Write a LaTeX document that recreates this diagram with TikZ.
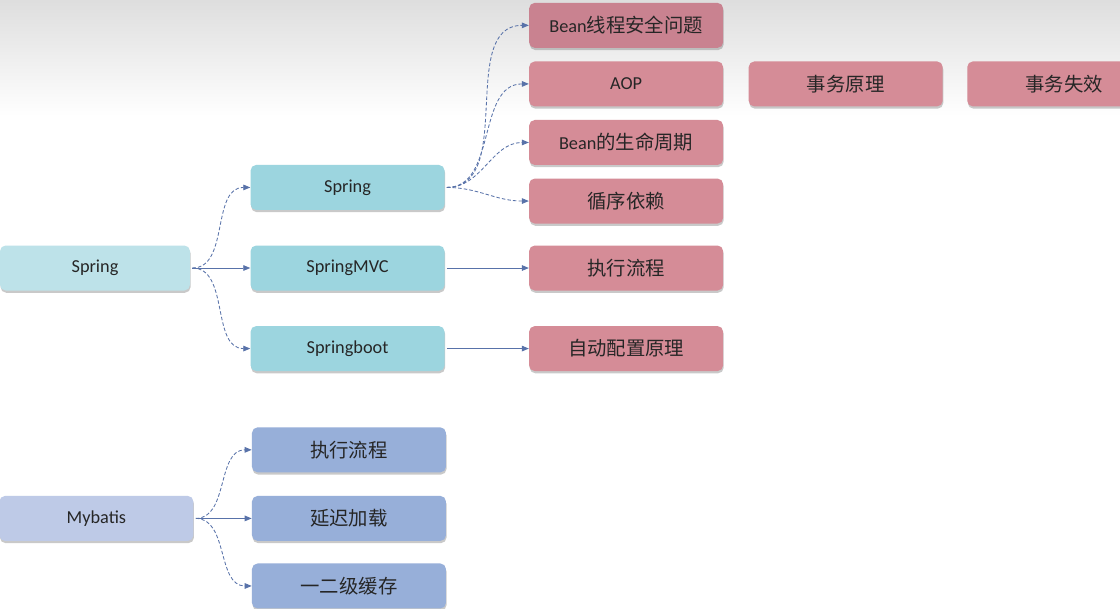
\documentclass[tikz,border=0pt]{standalone}
\usepackage{fontspec}
\setmainfont{Carlito}
\newfontfamily\cjk[Scale=1.06]{Noto Sans CJK SC}
\definecolor{RootCyan}{HTML}{BDE2E9}
\definecolor{SpringCyan}{HTML}{9CD5DF}
\definecolor{TopicPink}{HTML}{D58C97}
\definecolor{TopicPinkDark}{HTML}{C98290}
\definecolor{RootBlue}{HTML}{BECAE7}
\definecolor{MybatisBlue}{HTML}{97AFD9}
\definecolor{LinkBlue}{HTML}{5872A9}
\usetikzlibrary{arrows.meta, positioning, shadows}
\tikzset{
  box/.style={rectangle, rounded corners=4pt, draw=none, fill=#1,
              minimum width=4.85cm, minimum height=1.125cm,
              font=\fontsize{13}{15}\selectfont, text=black!85, align=center,
              drop shadow={shadow xshift=0.4pt, shadow yshift=-1.6pt,
                           opacity=0.35, fill=black!60}},
  arr/.style={-{Triangle[length=5pt, width=4pt]}, semithick, color=LinkBlue,
              shorten <=1.5pt},
  darr/.style={arr, dash pattern=on 2.5pt off 1.5pt},
}

\begin{document}
\begin{tikzpicture}
  % background
  \useasboundingbox (0,0) rectangle (28,-15.2);
  \fill[white] (0,0) rectangle (28,-15.2);
  \shade[top color=black!13, bottom color=white] (0,0) rectangle (28,-2.9);

  % spring branch
  \node[box=RootCyan, minimum width=4.75cm] (root) at (2.375,-6.7) {Spring};
  \node[box=SpringCyan, right=1.5cm of root] (mvc) {SpringMVC};
  \node[box=SpringCyan, above=0.875cm of mvc] (spring) {Spring};
  \node[box=SpringCyan, below=0.875cm of mvc] (boot) {Springboot};

  \node[box=TopicPink, right=2.1cm of spring, yshift=-0.34cm] (circ) {\cjk 循序依赖};
  \node[box=TopicPink, above=0.325cm of circ] (life) {Bean{\cjk 的生命周期}};
  \node[box=TopicPink, above=0.325cm of life] (aop) {AOP};
  \node[box=TopicPinkDark, above=0.325cm of aop] (safe) {Bean{\cjk 线程安全问题}};
  \node[box=TopicPink, right=0.625cm of aop] (txp) {\cjk 事务原理};
  \node[box=TopicPink, right=0.6cm of txp] (txf) {\cjk 事务失效};
  \node[box=TopicPink, right=2.1cm of mvc] (flow) {\cjk 执行流程};
  \node[box=TopicPink, right=2.1cm of boot] (auto) {\cjk 自动配置原理};

  % mybatis branch
  \node[box=RootBlue] (mybatis) at (2.41,-12.96) {Mybatis};
  \node[box=MybatisBlue, right=1.45cm of mybatis] (lazy) {\cjk 延迟加载};
  \node[box=MybatisBlue, above=0.575cm of lazy] (mflow) {\cjk 执行流程};
  \node[box=MybatisBlue, below=0.55cm of lazy] (cache) {\cjk 一二级缓存};

  \draw[darr] (root.east) to[out=0, in=180] (spring.west);
  \draw[arr]  (root.east) -- (mvc.west);
  \draw[darr] (root.east) to[out=0, in=180] (boot.west);

  \draw[darr] (spring.east) to[out=0, in=180] (safe.west);
  \draw[darr] (spring.east) to[out=0, in=180] (aop.west);
  \draw[darr] (spring.east) to[out=0, in=180] (life.west);
  \draw[darr] (spring.east) to[out=0, in=180] (circ.west);
  \draw[arr]  (mvc.east) -- (flow.west);
  \draw[arr]  (boot.east) -- (auto.west);

  \draw[darr] (mybatis.east) to[out=0, in=180] (mflow.west);
  \draw[arr]  (mybatis.east) -- (lazy.west);
  \draw[darr] (mybatis.east) to[out=0, in=180] (cache.west);
\end{tikzpicture}
\end{document}
